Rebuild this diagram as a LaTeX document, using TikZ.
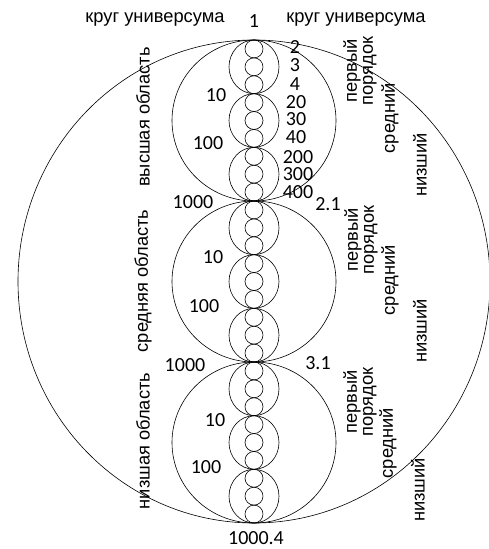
\documentclass[tikz,border=0pt]{standalone}
\usepackage{fontspec}
\setmainfont{Liberation Sans}
\newfontfamily\numfont{Carlito}
\begin{document}
\begin{tikzpicture}[x=1pt,y=-1pt,line width=0.6pt,
  lbl/.style={font=\fontsize{18.3}{16}\selectfont,inner sep=0pt},
  num/.style={font=\numfont\fontsize{20}{20}\selectfont,inner sep=0pt},
  vlbl/.style={lbl,rotate=90,align=center}]
\useasboundingbox (0,0) rectangle (488,549);
% circle of the universe
\draw (254,281.5) ellipse [x radius=236,y radius=241.5];
% three regions, each of three orders, each of three sub-steps
\foreach \i in {0,1,2}{
  \pgfmathsetmacro{\cy}{40+80.5+161*\i}
  \draw (254,\cy) ellipse [x radius=82,y radius=80.5];
  \foreach \j in {0,1,2}{
    \pgfmathsetmacro{\sy}{40+161*\i+53.667*\j+26.833}
    \draw (254,\sy) ellipse [x radius=25,y radius=26.833];
    \foreach \k in {0,1,2}{
      \pgfmathsetmacro{\ty}{40+161*\i+53.667*\j+17.889*\k+8.944}
      \draw (254,\ty) ellipse [x radius=9,y radius=8.944];
    }
  }
}
% top captions
\node[lbl] (kl) at (155,19) {круг универсума};
\node[num] (one) at (254,21) {1};
\node[lbl] (kr) at (356,19) {круг универсума};
% numbering along the column
\node[num] (n2) at (295,47) {2};
\node[num] (n3) at (295,65) {3};
\node[num] (n4) at (295,84) {4};
\node[num] (n20) at (296,102) {20};
\node[num] (n30) at (296,119) {30};
\node[num] (n40) at (296,137) {40};
\node[num] (n200) at (298,157) {200};
\node[num] (n300) at (298,174) {300};
\node[num] (n400) at (298,192) {400};
\node[num] (n21) at (328,204) {2.1};
\node[num] (n31) at (318,363) {3.1};
\node[num] (a10) at (216,95) {10};
\node[num] (a100) at (208,143) {100};
\node[num] (a1000) at (193,202) {1000};
\node[num] (b10) at (213,257) {10};
\node[num] (b100) at (204,306) {100};
\node[num] (b1000) at (185,365) {1000};
\node[num] (c10) at (215,420) {10};
\node[num] (c100) at (206,467) {100};
\node[num] (end) at (256,538.5) {1000.4};
% region names on the left
\node[vlbl] (hi) at (143,117) {высшая область};
\node[vlbl] (mid) at (143,281) {средняя область};
\node[vlbl] (lo) at (143,441) {низшая область};
% order names on the right
\node[vlbl] (p1) at (360,71) {первый\\порядок};
\node[vlbl] (s1) at (390,118) {средний};
\node[vlbl] (z1) at (420,165) {низший};
\node[vlbl] (p2) at (361,240) {первый\\порядок};
\node[vlbl] (s2) at (390,280) {средний};
\node[vlbl] (z2) at (420,331) {низший};
\node[vlbl] (p3) at (360,402) {первый\\порядок};
\node[vlbl] (s3) at (388,443) {средний};
\node[vlbl] (z3) at (418,490) {низший};
\end{tikzpicture}
\end{document}
